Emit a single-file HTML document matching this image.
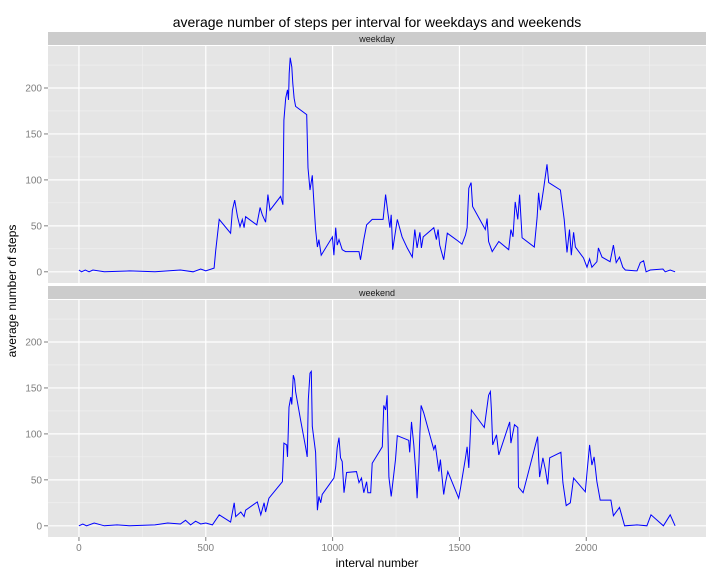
<!DOCTYPE html>
<html><head><meta charset="utf-8"><style>
body{margin:0;background:#fff;}
svg{display:block;font-family:"Liberation Sans",sans-serif;}
</style></head><body>
<svg id="chart" width="720" height="576"></svg>
<script>
const weekdayX=[0,10,25,40,55,100,200,300,400,450,480,500,533,539,553,598,605,614,625,635,644,651,657,701,714,723,736,745,753,795,804,808,815,822,826,829,833,839,843,848,854,898,903,911,920,924,933,940,946,955,999,1005,1012,1018,1025,1038,1051,1104,1110,1123,1134,1156,1199,1209,1218,1226,1231,1237,1255,1274,1294,1314,1324,1333,1344,1350,1357,1399,1409,1416,1422,1438,1452,1497,1510,1524,1530,1537,1546,1552,1602,1609,1615,1629,1655,1694,1703,1711,1720,1730,1737,1747,1795,1806,1812,1819,1832,1845,1852,1898,1913,1924,1934,1941,1950,1957,1989,2003,2013,2022,2042,2048,2062,2094,2107,2118,2131,2144,2154,2200,2213,2226,2236,2252,2302,2311,2331,2350];
const weekdayY=[2,0,2,0,2,0,1,0,2,0,3,1,4,23,57,42,67,78,60,49,57,48,60,51,70,62,54,84,67,82,73,165,189,198,187,216,233,223,205,189,180,171,113,89,105,86,46,27,35,18,38,18,48,29,35,24,22,22,13,35,51,57,57,84,64,48,62,24,57,38,26,16,46,26,43,26,38,48,35,46,29,13,42,33,30,40,48,91,97,71,46,58,33,22,33,24,46,38,76,57,84,37,27,59,86,67,91,117,97,89,57,21,46,18,43,27,15,5,14,5,11,26,16,11,29,10,16,5,2,1,10,12,0,2,3,0,2,0];
const weekendX=[0,15,30,60,100,150,200,300,350,400,420,440,460,480,500,526,553,598,612,618,638,651,657,703,717,730,736,749,802,808,819,822,828,835,839,845,850,854,874,894,900,904,911,916,920,933,940,946,953,959,1005,1012,1018,1025,1031,1038,1045,1055,1094,1104,1114,1123,1134,1139,1150,1156,1196,1202,1209,1215,1222,1231,1248,1255,1300,1304,1311,1320,1327,1333,1340,1344,1349,1359,1399,1405,1419,1425,1438,1445,1454,1497,1504,1524,1530,1537,1547,1598,1615,1622,1626,1631,1646,1655,1698,1703,1717,1730,1733,1751,1808,1816,1829,1839,1848,1856,1900,1908,1921,1937,1950,1996,2003,2013,2022,2031,2042,2055,2097,2107,2131,2151,2200,2239,2255,2304,2331,2350];
const weekendY=[0,2,0,3,0,1,0,1,3,2,6,1,5,2,3,1,12,4,25,10,15,10,17,26,12,25,15,30,48,90,88,75,129,140,132,164,159,146,115,85,75,137,166,168,108,80,17,32,25,34,52,64,85,96,74,70,36,58,59,47,52,36,48,36,36,68,86,131,126,142,53,32,72,98,93,80,113,88,61,30,68,101,131,123,83,88,59,72,34,47,59,30,41,74,86,63,126,107,142,146,126,88,99,77,113,90,110,107,42,36,97,53,74,61,45,74,80,47,22,25,52,37,58,88,66,75,48,28,28,11,20,0,1,0,12,0,12,0];
const xTicks=[0,500,1000,1500,2000];
const yTicks=[0,50,100,150,200];
const panels=[{label:"weekday",xs:weekdayX,ys:weekdayY,top:46,bottom:283,strip:32},
              {label:"weekend",xs:weekendX,ys:weekendY,top:300,bottom:537,strip:286}];
const NS="http://www.w3.org/2000/svg";
const svg=document.getElementById('chart');
const L=48,R=706,XMIN=-122,XMAX=2472,YMIN=-12.2,YMAX=245.7;
const sx=v=>L+(v-XMIN)/(XMAX-XMIN)*(R-L);
function mk(tag,attrs,parent){const e=document.createElementNS(NS,tag);for(const k in attrs)e.setAttribute(k,attrs[k]);(parent||svg).appendChild(e);return e;}
panels.forEach((p,pi)=>{
  const sy=v=>p.bottom-(v-YMIN)/(YMAX-YMIN)*(p.bottom-p.top);
  const g=mk('g',{});
  
  
  const st=mk('rect',{x:L,y:p.strip,width:R-L,height:p.top-p.strip-1,fill:'#cccccc'},g);
  
  
  const sl=mk('text',{x:(L+R)/2,y:p.strip+10,'text-anchor':'middle','font-size':'9',fill:'#1a1a1a'},g);
  sl.textContent=p.label;
  
  
  const bg=mk('rect',{x:L,y:p.top,width:R-L,height:p.bottom-p.top,fill:'#e5e5e5'},g);
  
  
  for(let i=0;i<yTicks.length;i++){const m=yTicks[i]+25;if(m<YMAX){mk('line',{x1:L,x2:R,y1:sy(m),y2:sy(m),stroke:'#f2f2f2','stroke-width':0.6},g);}}
  for(let i=-1;i<xTicks.length;i++){const m=(i<0?-500:xTicks[i])+250;if(m>XMIN&&m<XMAX)mk('line',{x1:sx(m),x2:sx(m),y1:p.top,y2:p.bottom,stroke:'#f2f2f2','stroke-width':0.6},g);}
  yTicks.forEach(t=>{
    mk('line',{x1:L,x2:R,y1:sy(t),y2:sy(t),stroke:'#ffffff','stroke-width':1.2},g);
    mk('line',{x1:L-4,x2:L,y1:sy(t),y2:sy(t),stroke:'#7f7f7f','stroke-width':1},g);
    const tl=mk('text',{x:L-6,y:sy(t)+3.5,'text-anchor':'end','font-size':'10',fill:'#7f7f7f'},g);
    tl.textContent=t;
    
    
  });
  xTicks.forEach(t=>{mk('line',{x1:sx(t),x2:sx(t),y1:p.top,y2:p.bottom,stroke:'#ffffff','stroke-width':1.2},g);});
  const pts=p.xs.map((x,i)=>sx(x).toFixed(1)+','+sy(p.ys[i]).toFixed(1)).join(' ');
  const line=mk('polyline',{points:pts,fill:'none',stroke:'#0000ff','stroke-width':1},g);
  
  
  if(pi===1){
    xTicks.forEach(t=>{
      mk('line',{x1:sx(t),x2:sx(t),y1:p.bottom,y2:p.bottom+4,stroke:'#7f7f7f','stroke-width':1},g);
      const xl=mk('text',{x:sx(t),y:p.bottom+14,'text-anchor':'middle','font-size':'10',fill:'#7f7f7f'},g);
      xl.textContent=t;
      
      
    });
  }
});
const title=mk('text',{x:377,y:27,'text-anchor':'middle','font-size':'14',fill:'#000'});
title.textContent='average number of steps per interval for weekdays and weekends';


const xt=mk('text',{x:377,y:567,'text-anchor':'middle','font-size':'12',fill:'#000'});
xt.textContent='interval number';


const yt=mk('text',{x:0,y:0,'text-anchor':'middle','font-size':'12',fill:'#000',transform:'translate(16,291) rotate(-90)'});
yt.textContent='average number of steps';


</script>
</body></html>
